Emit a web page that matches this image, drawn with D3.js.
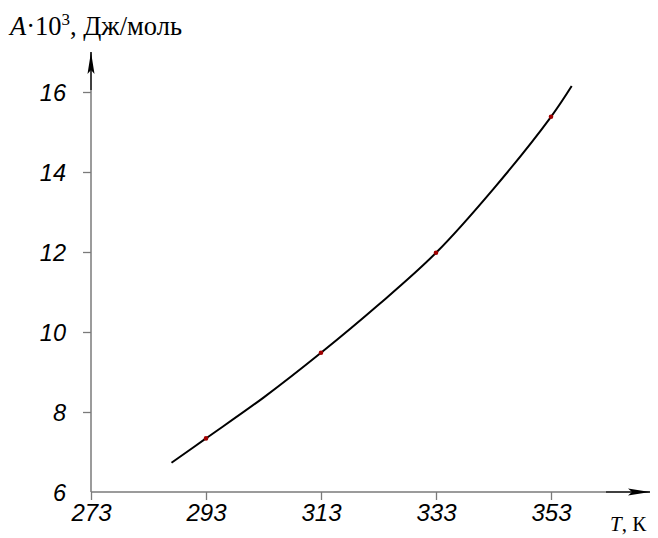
<!DOCTYPE html>
<html>
<head>
<meta charset="utf-8">
<script src="https://cdn.jsdelivr.net/npm/d3@7"></script>
<style>
  body { margin: 0; background: #fff; }
  svg { display: block; }
</style>
</head>
<body>
<div id="chart"></div>
<script>
// Canvas size
const width = 658;
const height = 538;

// Measured points (T, K  ->  A·10^3, J/mol)
const pointT = [293, 313, 333, 353];
const pointA = [7.34, 9.48, 11.98, 15.38];

// Smooth curve drawn through the points
const curveT = [287, 293, 303, 313, 323, 333, 343, 353, 356.6];
const curveA = [6.73, 7.34, 8.36, 9.48, 10.68, 11.98, 13.58, 15.38, 16.15];

// Tick labels
const xTicks = [273, 293, 313, 333, 353];
const yTicks = [6, 8, 10, 12, 14, 16];

const svg = d3.select('#chart').append('svg')
    .attr('width', width)
    .attr('height', height);

// Scales: origin (273, 6) sits at the axes corner
const x = d3.scaleLinear().domain([273, 353]).range([91, 551]);
const y = d3.scaleLinear().domain([6, 16]).range([492, 92]);

const axisGray = '#7a7a7a';

// Arrow heads
const defs = svg.append('defs');
defs.append('marker')
    .attr('id', 'arrow')
    .attr('viewBox', '0 0 22 8')
    .attr('refX', 22)
    .attr('refY', 4)
    .attr('markerWidth', 22)
    .attr('markerHeight', 8)
    .attr('markerUnits', 'userSpaceOnUse')
    .attr('orient', 'auto')
    .append('path')
    .attr('d', 'M0,0.5 L22,4 L0,7.5 L4,4 Z')
    .attr('fill', '#000');

// X axis
const xAxis = d3.axisBottom(x)
    .tickValues(xTicks)
    .tickSize(8)
    .tickFormat(d3.format('d'));

const gx = svg.append('g')
    .attr('transform', `translate(0,${y(6)})`)
    .call(xAxis);
gx.select('.domain').remove();
gx.selectAll('.tick line').attr('stroke', axisGray).attr('stroke-width', 1.3);
gx.selectAll('.tick text')
    .attr('y', 12)
    .attr('dy', '0.71em')
    .attr('fill', '#000')
    .style('font-family', '"Liberation Sans", Arial, sans-serif')
    .style('font-style', 'italic')
    .style('font-size', '24px');

// Y axis
const yAxis = d3.axisLeft(y)
    .tickValues(yTicks)
    .tickSize(8)
    .tickFormat(d3.format('d'));

const gy = svg.append('g')
    .attr('transform', `translate(${x(273)},0)`)
    .call(yAxis);
gy.select('.domain').remove();
gy.selectAll('.tick line').attr('stroke', axisGray).attr('stroke-width', 1.3);
gy.selectAll('.tick').filter(d => d === 6).select('line').remove();
gy.selectAll('.tick text')
    .attr('x', -25)
    .attr('dy', '0.36em')
    .attr('fill', '#000')
    .style('font-family', '"Liberation Sans", Arial, sans-serif')
    .style('font-style', 'italic')
    .style('font-size', '23.5px');

// Axis lines: gray body, black shaft + arrow at the end
svg.append('line')
    .attr('x1', x(273)).attr('y1', y(6))
    .attr('x2', 606).attr('y2', y(6))
    .attr('stroke', axisGray).attr('stroke-width', 1.5);
svg.append('line')
    .attr('x1', 606).attr('y1', y(6))
    .attr('x2', 650).attr('y2', y(6))
    .attr('stroke', '#000').attr('stroke-width', 1.5)
    .attr('marker-end', 'url(#arrow)');

svg.append('line')
    .attr('x1', x(273)).attr('y1', y(6))
    .attr('x2', x(273)).attr('y2', 90)
    .attr('stroke', axisGray).attr('stroke-width', 1.5);
svg.append('line')
    .attr('x1', x(273)).attr('y1', 90)
    .attr('x2', x(273)).attr('y2', 52)
    .attr('stroke', '#000').attr('stroke-width', 1.5)
    .attr('marker-end', 'url(#arrow)');

// Curve
const curveData = curveT.map((t, i) => ({ t: t, a: curveA[i] }));
const line = d3.line()
    .x(d => x(d.t))
    .y(d => y(d.a))
    .curve(d3.curveCatmullRom.alpha(0.5));

svg.append('path')
    .datum(curveData)
    .attr('d', line)
    .attr('fill', 'none')
    .attr('stroke', '#000')
    .attr('stroke-width', 2);

// Measured points
const pointData = pointT.map((t, i) => ({ t: t, a: pointA[i] }));
svg.selectAll('circle.pt')
    .data(pointData)
    .join('circle')
    .attr('class', 'pt')
    .attr('cx', d => x(d.t))
    .attr('cy', d => y(d.a))
    .attr('r', 2.3)
    .attr('fill', '#a00000');

// Axis titles
const serif = '"Liberation Serif", "Times New Roman", serif';

const yTitle = svg.append('text')
    .attr('x', 10)
    .attr('y', 35)
    .style('font-family', serif)
    .style('font-size', '26.5px')
    .attr('fill', '#000');
yTitle.append('tspan').style('font-style', 'italic').text('A');
yTitle.append('tspan').text('·10');
yTitle.append('tspan').attr('dy', -10).style('font-size', '17px').text('3');
yTitle.append('tspan').attr('dy', 10).text(', Дж/моль');

const xTitle = svg.append('text')
    .attr('x', 610)
    .attr('y', 531)
    .style('font-family', serif)
    .style('font-size', '21px')
    .attr('fill', '#000');
xTitle.append('tspan').style('font-style', 'italic').text('T');
xTitle.append('tspan').text(', К');
</script>
</body>
</html>
